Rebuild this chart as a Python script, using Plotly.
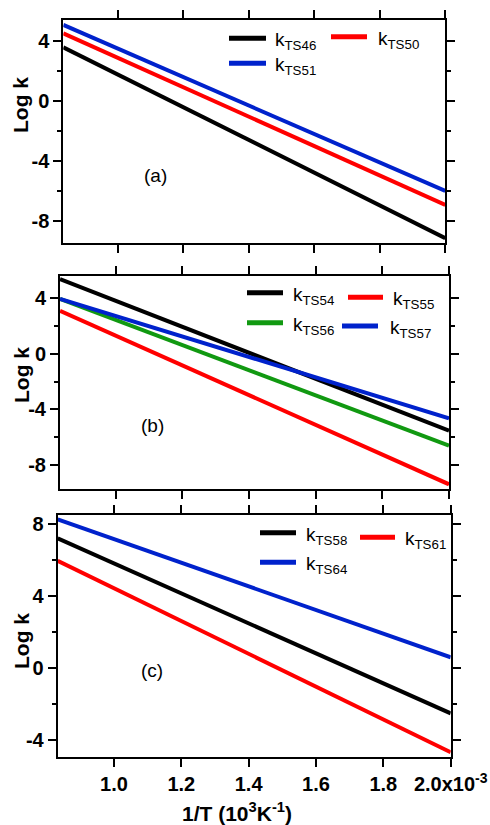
import plotly.graph_objects as go

W, H = 490, 825

# ---------------- data ----------------
x_ends = [0.833, 2.0]  # 1/T in 10^-3 K^-1

a_names = ["TS46", "TS50", "TS51"]
a_vals = [[3.56, -9.17], [4.49, -6.95], [5.05, -6.02]]
a_cols = ["#000000", "#ff0000", "#0022cc"]

b_names = ["TS54", "TS55", "TS56", "TS57"]
b_vals = [[5.37, -5.53], [3.09, -9.39], [3.95, -6.61], [3.95, -4.64]]
b_cols = ["#000000", "#ff0000", "#119911", "#0022cc"]

c_names = ["TS58", "TS61", "TS64"]
c_vals = [[7.22, -2.53], [5.97, -4.70], [8.28, 0.59]]
c_cols = ["#000000", "#ff0000", "#0022cc"]

x_tickvals = [1.0, 1.2, 1.4, 1.6, 1.8, 2.0]
x_ticktext = ["1.0", "1.2", "1.4", "1.6", "1.8", "2.0x10<sup>-3</sup>"]
a_yticks = [4, 0, -4, -8]
b_yticks = [4, 0, -4, -8]
c_yticks = [8, 4, 0, -4]

FONT = "Liberation Sans, Arial, sans-serif"
TICK_SIZE = 20
TITLE_SIZE = 21
LEG_SIZE = 19


def px(x):
    return x / W


def py(y):
    return 1 - y / H


fig = go.Figure()

panels = [
    ("", a_names, a_vals, a_cols, (63.3, 445.3), (20, 242.7), (-9.47, 5.38), a_yticks),
    ("2", b_names, b_vals, b_cols, (60.0, 449.0), (276, 489.3), (-9.75, 5.6), b_yticks),
    ("3", c_names, c_vals, c_cols, (57.7, 450.7), (515, 757.3), (-4.98, 8.52), c_yticks),
]

for suf, names, vals, cols, xd, yd, yr, yt in panels:
    for n, v, c in zip(names, vals, cols):
        fig.add_trace(go.Scatter(
            x=x_ends, y=v, mode="lines", name="k" + n,
            line=dict(color=c, width=4), showlegend=False,
            xaxis="x" + suf, yaxis="y" + suf,
        ))
    is_bottom = suf == "3"
    fig.layout["xaxis" + suf] = dict(
        domain=[px(xd[0]), px(xd[1])], range=[0.833, 2.0], anchor="y" + suf,
        automargin=False,
        showgrid=False, zeroline=False, showline=True, linecolor="black", linewidth=2,
        mirror="allticks", ticks="outside", ticklen=8, tickwidth=2, tickcolor="black",
        tickvals=x_tickvals, ticktext=x_ticktext, showticklabels=is_bottom,
        tickfont=dict(family=FONT, size=TICK_SIZE, color="black", weight="bold"),
    )
    fig.layout["yaxis" + suf] = dict(
        domain=[py(yd[1]), py(yd[0])], range=list(yr), anchor="x" + suf,
        automargin=False,
        showgrid=False, zeroline=False, showline=True, linecolor="black", linewidth=2,
        mirror="allticks", ticks="outside", ticklen=8, tickwidth=2, tickcolor="black",
        tickvals=yt, ticktext=[str(t) for t in yt],
        minor=dict(dtick=2, ticklen=4, tickwidth=2, tickcolor="black", ticks="outside"),
        tickfont=dict(family=FONT, size=TICK_SIZE, color="black", weight="bold"),
    )

# ------------- manual legends (segments + labels) -------------
legend_pos = {
    "TS46": (229, 266, 38.3, 273),
    "TS50": (331, 367, 36.7, 376),
    "TS51": (229, 266, 63.3, 273),
    "TS54": (247, 283, 292.7, 291),
    "TS55": (348, 383, 297.3, 391),
    "TS56": (247, 283, 322.7, 291),
    "TS57": (342, 378, 326.0, 388),
    "TS58": (260, 296, 532.7, 304),
    "TS61": (360, 395, 537.3, 403),
    "TS64": (260, 296, 562.3, 304),
}
shapes = []
annotations = []
for names, cols in [(a_names, a_cols), (b_names, b_cols), (c_names, c_cols)]:
    for n, c in zip(names, cols):
        x0, x1, y, lx = legend_pos[n]
        shapes.append(dict(type="line", xref="paper", yref="paper",
                           x0=px(x0), x1=px(x1), y0=py(y), y1=py(y),
                           line=dict(color=c, width=5)))
        annotations.append(dict(
            text="k<sub>" + n + "</sub>", xref="paper", yref="paper",
            x=px(lx), y=py(y + 3), xanchor="left", yanchor="middle", showarrow=False,
            font=dict(family=FONT, size=LEG_SIZE, color="black"),
        ))

for lab, (lx, ly) in zip(["(a)", "(b)", "(c)"], [(155, 175), (152, 425), (152, 670)]):
    annotations.append(dict(text=lab, xref="paper", yref="paper", x=px(lx), y=py(ly),
                            xanchor="center", yanchor="middle", showarrow=False,
                            font=dict(family=FONT, size=LEG_SIZE, color="black")))

for ly in [105, 375, 641]:
    annotations.append(dict(text="Log k", xref="paper", yref="paper", x=px(21), y=py(ly),
                            xanchor="center", yanchor="middle", textangle=-90, showarrow=False,
                            font=dict(family=FONT, size=TITLE_SIZE, color="black", weight="bold")))

annotations.append(dict(text="1/T (10<sup>3</sup>K<sup>-1</sup>)", xref="paper", yref="paper",
                        x=px(237), y=py(812), xanchor="center", yanchor="middle", showarrow=False,
                        font=dict(family=FONT, size=TITLE_SIZE, color="black", weight="bold")))

fig.update_layout(
    width=W, height=H, margin=dict(l=0, r=0, t=0, b=0, autoexpand=False), autosize=False,
    paper_bgcolor="white", plot_bgcolor="white",
    shapes=shapes, annotations=annotations, showlegend=False,
)

post = (
    "document.documentElement.style.overflow='hidden';"
    "document.body.style.margin='0';document.body.style.padding='0';"
    "document.body.style.overflow='hidden';"
)

fig.write_html("out.html", post_script=post,
               config={"responsive": False, "displayModeBar": False})
